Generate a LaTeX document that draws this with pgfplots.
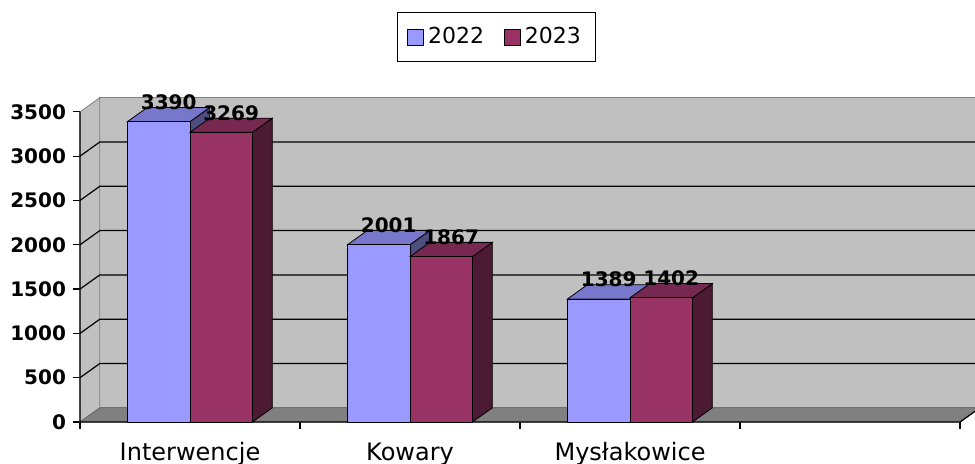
\documentclass[border=0pt]{standalone}
\usepackage{pgfplots}
\pgfplotsset{compat=1.18}
\usepackage{fontspec}
\setmainfont{DejaVu Sans}
\definecolor{wall}{HTML}{C0C0C0}
\definecolor{floorc}{HTML}{808080}
\definecolor{aF}{HTML}{9999FF}
\definecolor{aT}{HTML}{7777CC}
\definecolor{aS}{HTML}{4D4D80}
\definecolor{bF}{HTML}{993366}
\definecolor{bT}{HTML}{772850}
\definecolor{bS}{HTML}{4D1A33}
\pgfplotsset{sqlegend/.style={legend image code/.code={\draw[##1,draw=black] (0pt,-4pt) rectangle (8pt,4pt);}}}
\begin{document}
\begin{tikzpicture}
\begin{axis}[
  scale only axis, width=447.5pt, height=162.15pt,
  xmin=-0.5, xmax=3.568, ymin=0, ymax=3660,
  clip=false,
  axis line style={draw=none},
  tick align=outside,
  xtick pos=bottom, ytick pos=left,
  xtick={-0.5,0.5,1.5,2.5,3.5}, xticklabels={},
  major tick length=3.5pt,
  tick style={black, line width=0.6pt},
  extra x ticks={0,1,2},
  extra x tick labels={Interwencje,Kowary,Mysłakowice},
  extra x tick style={tick style={draw=none}},
  xticklabel style={font=\fontsize{12}{14}\selectfont, anchor=base, yshift=-16pt},
  ytick={0,500,...,3500},
  yticklabel style={font=\bfseries\fontsize{10}{12}\selectfont},
  /pgf/number format/assume math mode=true,
  /pgf/number format/1000 sep={},
  every node near coord/.append style={font=\bfseries\fontsize{10}{12}\selectfont, anchor=base, inner sep=0pt, yshift=6pt, black},
  legend style={at={(0.465,1.187)}, anchor=center, draw=black, legend columns=2,
    font=\fontsize{11}{13}\selectfont,
    /tikz/every even column/.append style={column sep=8pt},
    inner xsep=5pt, inner ysep=5.5pt},
]
% walls
\addplot[fill=wall, draw=gray, forget plot] coordinates {(-0.41,160) (3.6,160) (3.6,3660) (-0.41,3660)} -- cycle;
\addplot[fill=wall, draw=gray, forget plot] coordinates {(-0.5,0) (-0.5,3500) (-0.41,3660) (-0.41,160)} -- cycle;
\addplot[fill=floorc, draw=black!60, forget plot] coordinates {(-0.5,0) (3.5,0) (3.59,160) (-0.41,160)} -- cycle;
% gridlines
\addplot[black, line width=0.6pt, forget plot, unbounded coords=jump] coordinates {
 (-0.5,500) (-0.41,660) (3.6,660) (nan,nan)
 (-0.5,1000) (-0.41,1160) (3.6,1160) (nan,nan)
 (-0.5,1500) (-0.41,1660) (3.6,1660) (nan,nan)
 (-0.5,2000) (-0.41,2160) (3.6,2160) (nan,nan)
 (-0.5,2500) (-0.41,2660) (3.6,2660) (nan,nan)
 (-0.5,3000) (-0.41,3160) (3.6,3160)};
% axis lines
\addplot[black, line width=0.6pt, forget plot] coordinates {(-0.5,3500) (-0.5,0) (3.5,0) (3.59,160)};
% 2022 sides and tops
\addplot[fill=aS, draw=black, forget plot] coordinates {(0,0) (0.09,160) (0.09,3550) (0,3390)} -- cycle;
\addplot[fill=aT, draw=black, forget plot] coordinates {(-0.284,3390) (0,3390) (0.09,3550) (-0.194,3550)} -- cycle;
\addplot[fill=aS, draw=black, forget plot] coordinates {(1,0) (1.09,160) (1.09,2161) (1,2001)} -- cycle;
\addplot[fill=aT, draw=black, forget plot] coordinates {(0.716,2001) (1,2001) (1.09,2161) (0.806,2161)} -- cycle;
\addplot[fill=aS, draw=black, forget plot] coordinates {(2,0) (2.09,160) (2.09,1549) (2,1389)} -- cycle;
\addplot[fill=aT, draw=black, forget plot] coordinates {(1.716,1389) (2,1389) (2.09,1549) (1.806,1549)} -- cycle;
% 2022 fronts
\addplot[ybar, sqlegend, bar width=0.284, bar shift=-0.142, fill=aF, draw=black, nodes near coords,
  every node near coord/.append style={xshift=-10.67pt}]
  coordinates {(0,3390) (1,2001) (2,1389)};
\addlegendentry{2022}
% 2023 sides and tops
\addplot[fill=bS, draw=black, forget plot] coordinates {(0.284,0) (0.374,160) (0.374,3429) (0.284,3269)} -- cycle;
\addplot[fill=bT, draw=black, forget plot] coordinates {(0,3269) (0.284,3269) (0.374,3429) (0.09,3429)} -- cycle;
\addplot[fill=bS, draw=black, forget plot] coordinates {(1.284,0) (1.374,160) (1.374,2027) (1.284,1867)} -- cycle;
\addplot[fill=bT, draw=black, forget plot] coordinates {(1,1867) (1.284,1867) (1.374,2027) (1.09,2027)} -- cycle;
\addplot[fill=bS, draw=black, forget plot] coordinates {(2.284,0) (2.374,160) (2.374,1562) (2.284,1402)} -- cycle;
\addplot[fill=bT, draw=black, forget plot] coordinates {(2,1402) (2.284,1402) (2.374,1562) (2.09,1562)} -- cycle;
% 2023 fronts
\addplot[ybar, sqlegend, bar width=0.284, bar shift=0.142, fill=bF, draw=black, nodes near coords,
  every node near coord/.append style={xshift=20.57pt}]
  coordinates {(0,3269) (1,1867) (2,1402)};
\addlegendentry{2023}
\end{axis}
\pgfresetboundingbox
\path[use as bounding box] (-40pt,-21pt) rectangle (447.5pt,211pt);
\end{tikzpicture}
\end{document}
